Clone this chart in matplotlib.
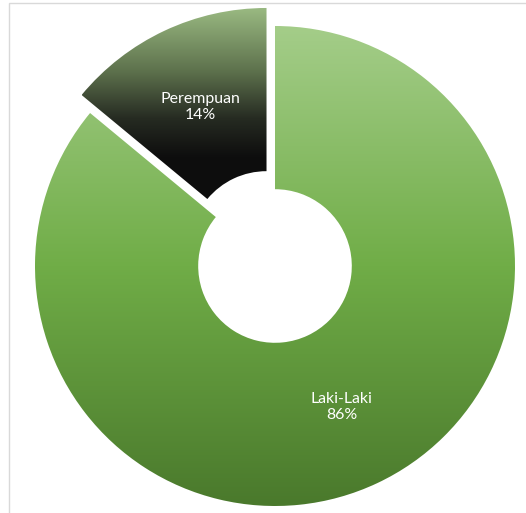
import matplotlib
matplotlib.use("Agg")
import matplotlib.pyplot as plt
import numpy as np
from matplotlib.colors import LinearSegmentedColormap
from matplotlib.patches import Rectangle

labels = ["Laki-Laki", "Perempuan"]
values = [86, 14]
explode = [0.0, 0.083]

# vertical gradient stops per slice (top -> bottom)
grad_stops = [
    [(0.0, "#a4cd89"), (0.5, "#70ad47"), (1.0, "#4a792c")],
    [(0.0, "#9aba82"), (0.33, "#5e724d"), (0.58, "#262b22"), (0.78, "#0e0e0e"), (1.0, "#0d0d0d")],
]

W, H = 526, 513
R = 240.0
cx, cy = 275.0, 266.0

fig = plt.figure(figsize=(W / 100, H / 100), dpi=100)
ax = fig.add_axes([0, 0, 1, 1])
ax.set_xlim(-cx / R, (W - cx) / R)
ax.set_ylim(-(H - cy) / R, cy / R)
ax.set_aspect("equal")
ax.axis("off")

label_iter = iter(labels)


def fmt(pct):
    return f"{next(label_iter)}\n{pct:.0f}%"


wedges, texts, autotexts = ax.pie(
    values,
    radius=1.0,
    startangle=90,
    counterclock=False,
    explode=explode,
    autopct=fmt,
    pctdistance=0.65,
    wedgeprops=dict(width=0.68, facecolor="none", edgecolor="none"),
    textprops=dict(color="white", fontsize=11.4, family=["Lato", "DejaVu Sans"]),
)

grad = np.linspace(0, 1, 512).reshape(-1, 1)
for wedge, stops in zip(wedges, grad_stops):
    cmap = LinearSegmentedColormap.from_list("g", stops)
    ext = wedge.get_path().get_extents(wedge.get_transform() - ax.transData)
    im = ax.imshow(grad, cmap=cmap, aspect="auto", origin="upper",
                   extent=[ext.x0, ext.x1, ext.y0, ext.y1], zorder=1,
                   interpolation="bilinear")
    im.set_clip_path(wedge)

for t in autotexts:
    t.set_zorder(3)
    t.set_linespacing(1.2)

ax.set_xlim(-cx / R, (W - cx) / R)
ax.set_ylim(-(H - cy) / R, cy / R)

fig.patches.append(Rectangle((8.5 / W, -0.5), 2, 1.5 - 2.5 / H, transform=fig.transFigure,
                             facecolor="none", edgecolor="#d9d9d9", linewidth=1.0))

fig.savefig("out.png", dpi=100)
